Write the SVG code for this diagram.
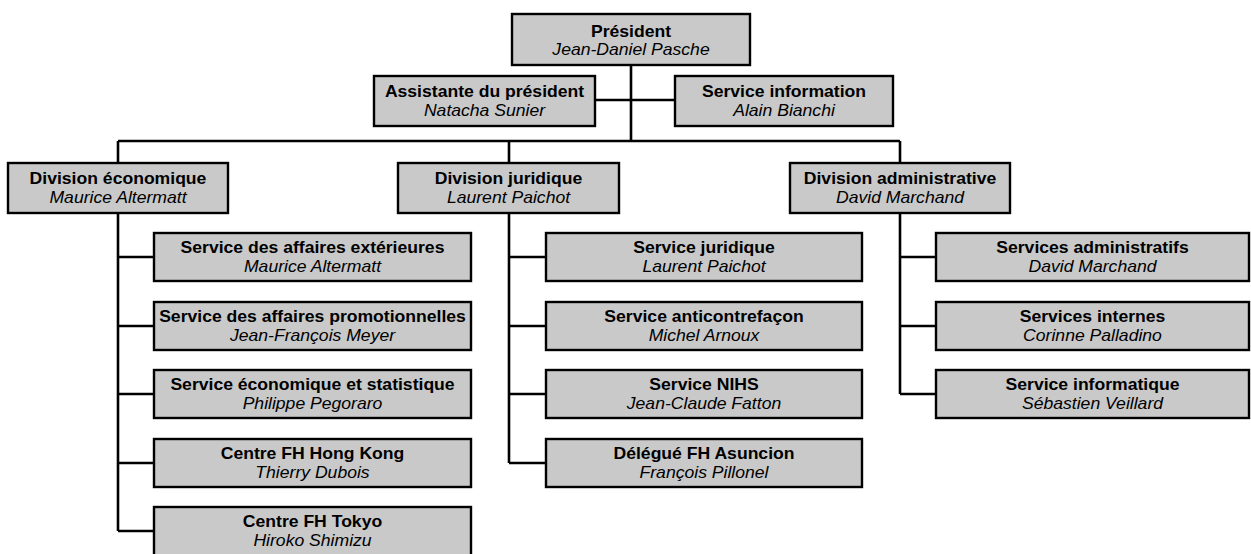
<svg xmlns="http://www.w3.org/2000/svg" width="1251" height="554" viewBox="0 0 1251 554">
<style>
.box{fill:#c9c9c9;stroke:#000;stroke-width:2.4}
.t{font-family:"Liberation Sans",Arial,sans-serif;font-size:16px;text-anchor:middle;fill:#000}
.b{font-weight:bold}
.i{font-style:italic}
.c{fill:none;stroke:#000;stroke-width:2.6}
</style>
<rect width="1251" height="554" fill="#fff"/>
<g id="connectors">
<path class="c" d="M631,66 V141 M596,100 H674 M118,141 H900 M118,141 V162 M509,141 V162 M900,141 V162"/>
<path class="c" d="M118,214 V531 M118,257 H153 M118,326 H153 M118,394 H153 M118,463 H153 M118,531 H153"/>
<path class="c" d="M509,214 V463 M509,257 H545 M509,326 H545 M509,394 H545 M509,463 H545"/>
<path class="c" d="M900,214 V394 M900,257 H935 M900,326 H935 M900,394 H935"/>
</g>
<g id="president"><rect class="box" x="512" y="14" width="238" height="51"/>
<text class="t b" transform="translate(631,36.5) scale(1.1,1)">Président</text>
<text class="t i" transform="translate(631,55) scale(1.1,1)">Jean-Daniel Pasche</text></g>
<g id="assistante"><rect class="box" x="374" y="76" width="221" height="50"/>
<text class="t b" transform="translate(484.5,97) scale(1.1,1)">Assistante du président</text>
<text class="t i" transform="translate(484.5,116) scale(1.1,1)">Natacha Sunier</text></g>
<g id="information"><rect class="box" x="675" y="76" width="218" height="50"/>
<text class="t b" transform="translate(784,97) scale(1.1,1)">Service information</text>
<text class="t i" transform="translate(784,116) scale(1.1,1)">Alain Bianchi</text></g>
<g id="div-eco"><rect class="box" x="8" y="163" width="220" height="50"/>
<text class="t b" transform="translate(118,184) scale(1.1,1)">Division économique</text>
<text class="t i" transform="translate(118,203) scale(1.1,1)">Maurice Altermatt</text></g>
<g id="div-jur"><rect class="box" x="398" y="163" width="221" height="50"/>
<text class="t b" transform="translate(508.5,184) scale(1.1,1)">Division juridique</text>
<text class="t i" transform="translate(508.5,203) scale(1.1,1)">Laurent Paichot</text></g>
<g id="div-adm"><rect class="box" x="790" y="163" width="220" height="50"/>
<text class="t b" transform="translate(900,184) scale(1.1,1)">Division administrative</text>
<text class="t i" transform="translate(900,203) scale(1.1,1)">David Marchand</text></g>
<g id="ext"><rect class="box" x="154" y="233" width="317" height="48"/>
<text class="t b" transform="translate(312.5,253) scale(1.1,1)">Service des affaires extérieures</text>
<text class="t i" transform="translate(312.5,272) scale(1.1,1)">Maurice Altermatt</text></g>
<g id="promo"><rect class="box" x="154" y="302" width="317" height="48"/>
<text class="t b" transform="translate(312.5,322) scale(1.1,1)">Service des affaires promotionnelles</text>
<text class="t i" transform="translate(312.5,341) scale(1.1,1)">Jean-François Meyer</text></g>
<g id="stat"><rect class="box" x="154" y="370" width="317" height="48"/>
<text class="t b" transform="translate(312.5,390) scale(1.1,1)">Service économique et statistique</text>
<text class="t i" transform="translate(312.5,409) scale(1.1,1)">Philippe Pegoraro</text></g>
<g id="hk"><rect class="box" x="154" y="439" width="317" height="48"/>
<text class="t b" transform="translate(312.5,459) scale(1.1,1)">Centre FH Hong Kong</text>
<text class="t i" transform="translate(312.5,478) scale(1.1,1)">Thierry Dubois</text></g>
<g id="tokyo"><rect class="box" x="154" y="507" width="317" height="52"/>
<text class="t b" transform="translate(312.5,527) scale(1.1,1)">Centre FH Tokyo</text>
<text class="t i" transform="translate(312.5,546) scale(1.1,1)">Hiroko Shimizu</text></g>
<g id="jur"><rect class="box" x="546" y="233" width="316" height="48"/>
<text class="t b" transform="translate(704,253) scale(1.1,1)">Service juridique</text>
<text class="t i" transform="translate(704,272) scale(1.1,1)">Laurent Paichot</text></g>
<g id="anti"><rect class="box" x="546" y="302" width="316" height="48"/>
<text class="t b" transform="translate(704,322) scale(1.1,1)">Service anticontrefaçon</text>
<text class="t i" transform="translate(704,341) scale(1.1,1)">Michel Arnoux</text></g>
<g id="nihs"><rect class="box" x="546" y="370" width="316" height="48"/>
<text class="t b" transform="translate(704,390) scale(1.1,1)">Service NIHS</text>
<text class="t i" transform="translate(704,409) scale(1.1,1)">Jean-Claude Fatton</text></g>
<g id="asuncion"><rect class="box" x="546" y="439" width="316" height="48"/>
<text class="t b" transform="translate(704,459) scale(1.1,1)">Délégué FH Asuncion</text>
<text class="t i" transform="translate(704,478) scale(1.1,1)">François Pillonel</text></g>
<g id="adm"><rect class="box" x="936" y="233" width="313" height="48"/>
<text class="t b" transform="translate(1092.5,253) scale(1.1,1)">Services administratifs</text>
<text class="t i" transform="translate(1092.5,272) scale(1.1,1)">David Marchand</text></g>
<g id="int"><rect class="box" x="936" y="302" width="313" height="48"/>
<text class="t b" transform="translate(1092.5,322) scale(1.1,1)">Services internes</text>
<text class="t i" transform="translate(1092.5,341) scale(1.1,1)">Corinne Palladino</text></g>
<g id="info"><rect class="box" x="936" y="370" width="313" height="48"/>
<text class="t b" transform="translate(1092.5,390) scale(1.1,1)">Service informatique</text>
<text class="t i" transform="translate(1092.5,409) scale(1.1,1)">Sébastien Veillard</text></g>
</svg>
